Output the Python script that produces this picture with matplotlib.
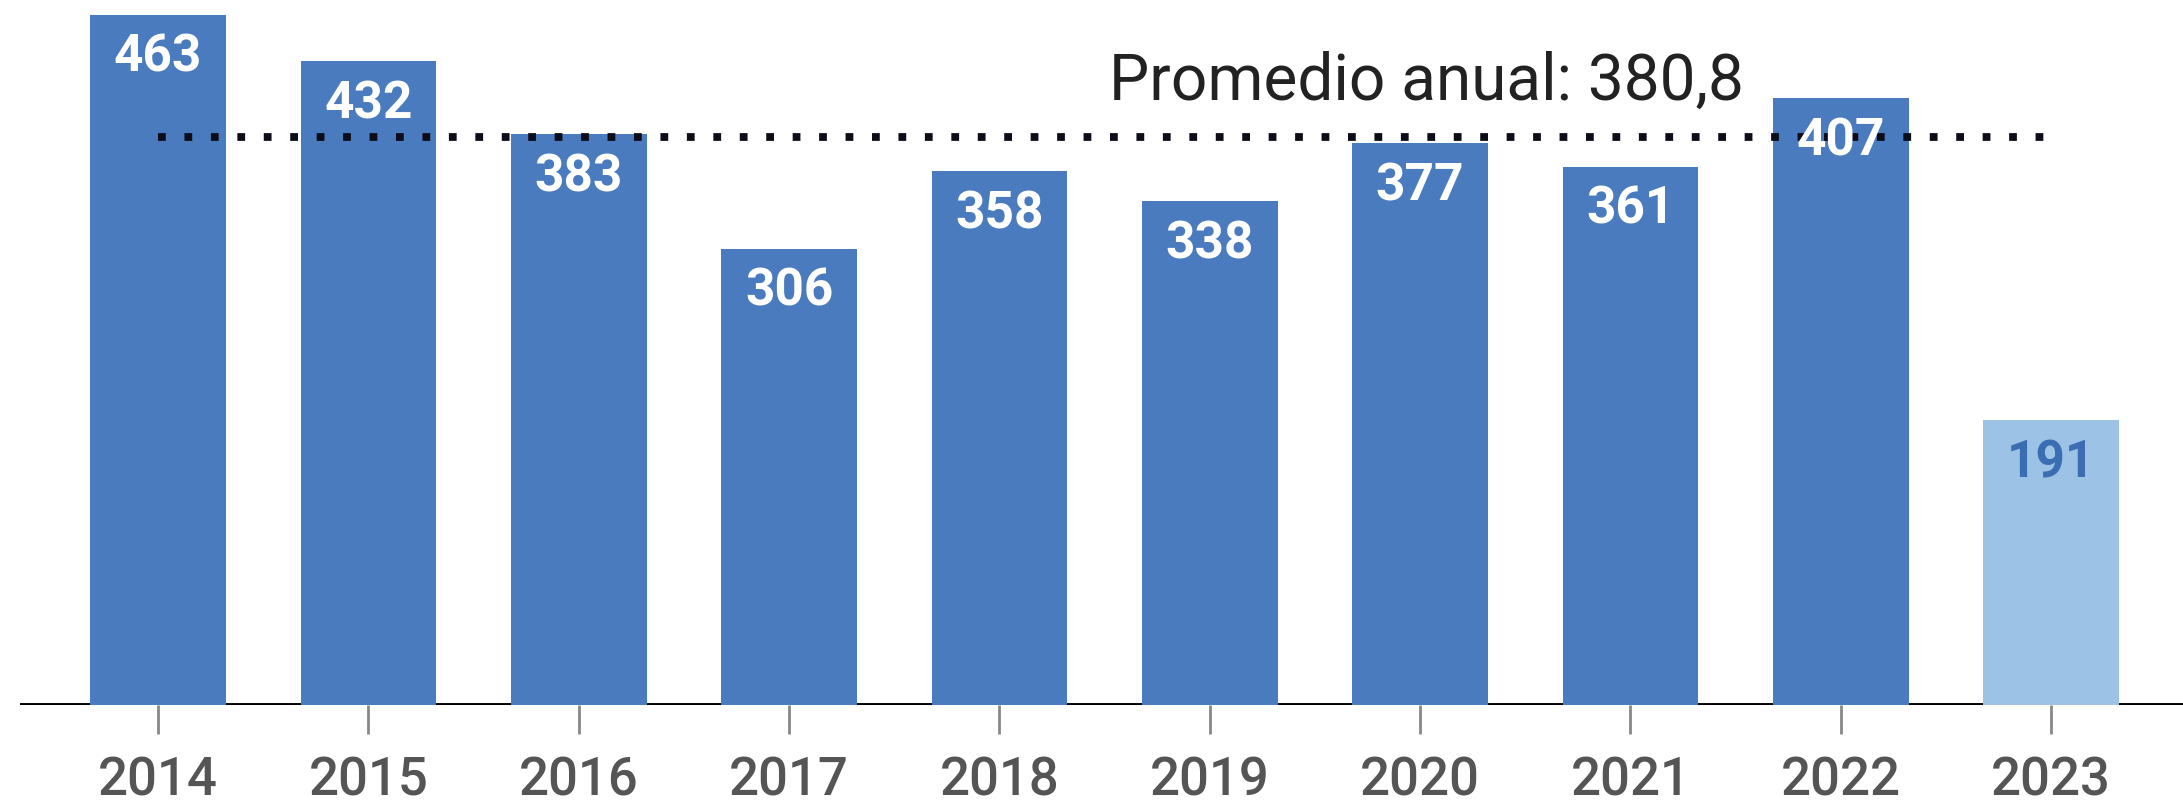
import matplotlib.pyplot as plt

years       = ["2014", "2015", "2016", "2017", "2018", "2019", "2020", "2021", "2022", "2023"]
values      = [463, 432, 383, 306, 358, 338, 377, 361, 407, 191]
partial     = [False, False, False, False, False, False, False, False, False, True]
avg_label   = "Promedio anual: 380,8"
avg_value   = 380.8

plt.rcParams['font.family'] = ['Roboto', 'DejaVu Sans']

fig     = plt.figure(figsize=(21.83, 8.11), dpi=100)
ax      = fig.add_axes([0.0092, 0.1313, 0.9908, 0.8687])

x       = list(range(len(years)))
colors  = ['#9cc3e6' if p else '#4a7bbf' for p in partial]

ax.axhline(0, color='black', linewidth=2.8, zorder=1)
ax.bar(x, values, width=0.645, color=colors, zorder=2)

for xi, v, p in zip(x, values, partial):
    ax.annotate(str(v), (xi, v), xytext=(0, -31), textcoords='offset points',
                ha='center', va='center', fontsize=37, fontweight='bold',
                color='#3b6db3' if p else 'white', zorder=4)

# linea de promedio
ax.hlines(avg_value, 0, 9.03, colors='#0d0d1a', linewidth=5.6,
          linestyles=(0, (1, 2.4)), zorder=3)
ax.text(4.52, avg_value + 37, avg_label, ha='left', va='center',
        fontsize=46, color='#222222', zorder=4)

ax.set_xlim(-0.656, 9.627)
ax.set_ylim(0, 473)
ax.set_xticks(x)
ax.set_xticklabels(years, fontsize=38, color='#555555', fontweight='medium')
ax.tick_params(axis='x', length=21, width=2, color='#888888', pad=16)
ax.set_yticks([])
for s in ax.spines.values():
    s.set_visible(False)

fig.savefig("out.png", dpi=100)
